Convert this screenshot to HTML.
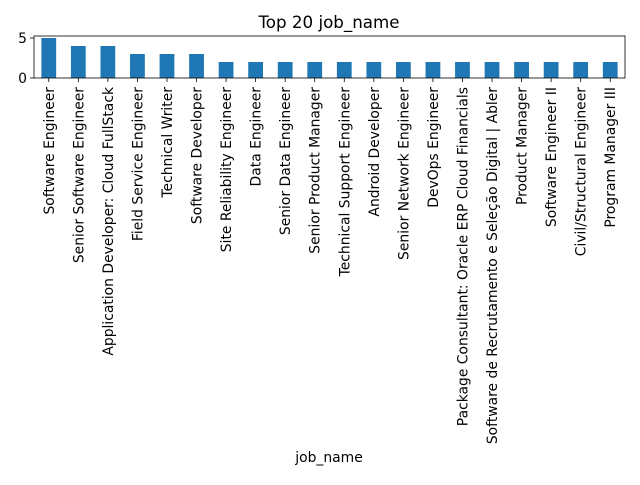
<!DOCTYPE html>
<html><head><meta charset="utf-8"><style>
body{margin:0;background:#fff}
svg{font-family:"DejaVu Sans","Liberation Sans",sans-serif}
</style></head><body>
<svg id="chart" width="640" height="480">
<text x="329" y="28" font-size="16.7" text-anchor="middle">Top 20 job_name</text>
<text x="329" y="462" font-size="13.9" text-anchor="middle">job_name</text>
<g id="bars"></g><g id="axes"></g>
</svg>
<script>
const categories=["Software Engineer","Senior Software Engineer","Application Developer: Cloud FullStack","Field Service Engineer","Technical Writer","Software Developer","Site Reliability Engineer","Data Engineer","Senior Data Engineer","Senior Product Manager","Technical Support Engineer","Android Developer","Senior Network Engineer","DevOps Engineer","Package Consultant: Oracle ERP Cloud Financials","Software de Recrutamento e Seleção Digital | Abler","Product Manager","Software Engineer II","Civil/Structural Engineer","Program Manager III"];
const counts=[5,4,4,3,3,3,2,2,2,2,2,2,2,2,2,2,2,2,2,2];
const yTicks=[0,5];
const L=34,R=625,T=36,B=78,yMax=Math.max(...counts)*1.05;
const ns="http://www.w3.org/2000/svg";
const step=(R-L)/categories.length;
const x=i=>L+step*(i+0.5);
const y=v=>B-(v/yMax)*(B-T);
const bars=document.getElementById('bars'),axes=document.getElementById('axes');
function mk(t,a,p){const e=document.createElementNS(ns,t);for(const k in a)e.setAttribute(k,a[k]);p.appendChild(e);return e;}
counts.forEach((v,i)=>{
 const r=mk('rect',{x:x(i)-step/4,y:y(v),width:step/2,height:B-y(v),fill:'#1f77b4'},bars);
 
 
 mk('line',{x1:x(i),x2:x(i),y1:B,y2:B+4,stroke:'#000','stroke-width':0.8},axes);
 const t=mk('text',{x:0,y:0,'font-size':13.9,'text-anchor':'end',transform:`translate(${x(i)+5},${B+9}) rotate(-90)`},axes);
 t.textContent=categories[i];
 
 
});
yTicks.forEach(v=>{
 mk('line',{x1:L-4,x2:L,y1:y(v),y2:y(v),stroke:'#000','stroke-width':0.8},axes);
 const t=mk('text',{x:L-7,y:y(v)+5,'font-size':13.9,'text-anchor':'end'},axes);
 t.textContent=v;
 
 
});
const f=mk('rect',{x:L,y:T,width:R-L,height:B-T,fill:'none',stroke:'#000','stroke-width':0.8},axes);


</script>
</body></html>
